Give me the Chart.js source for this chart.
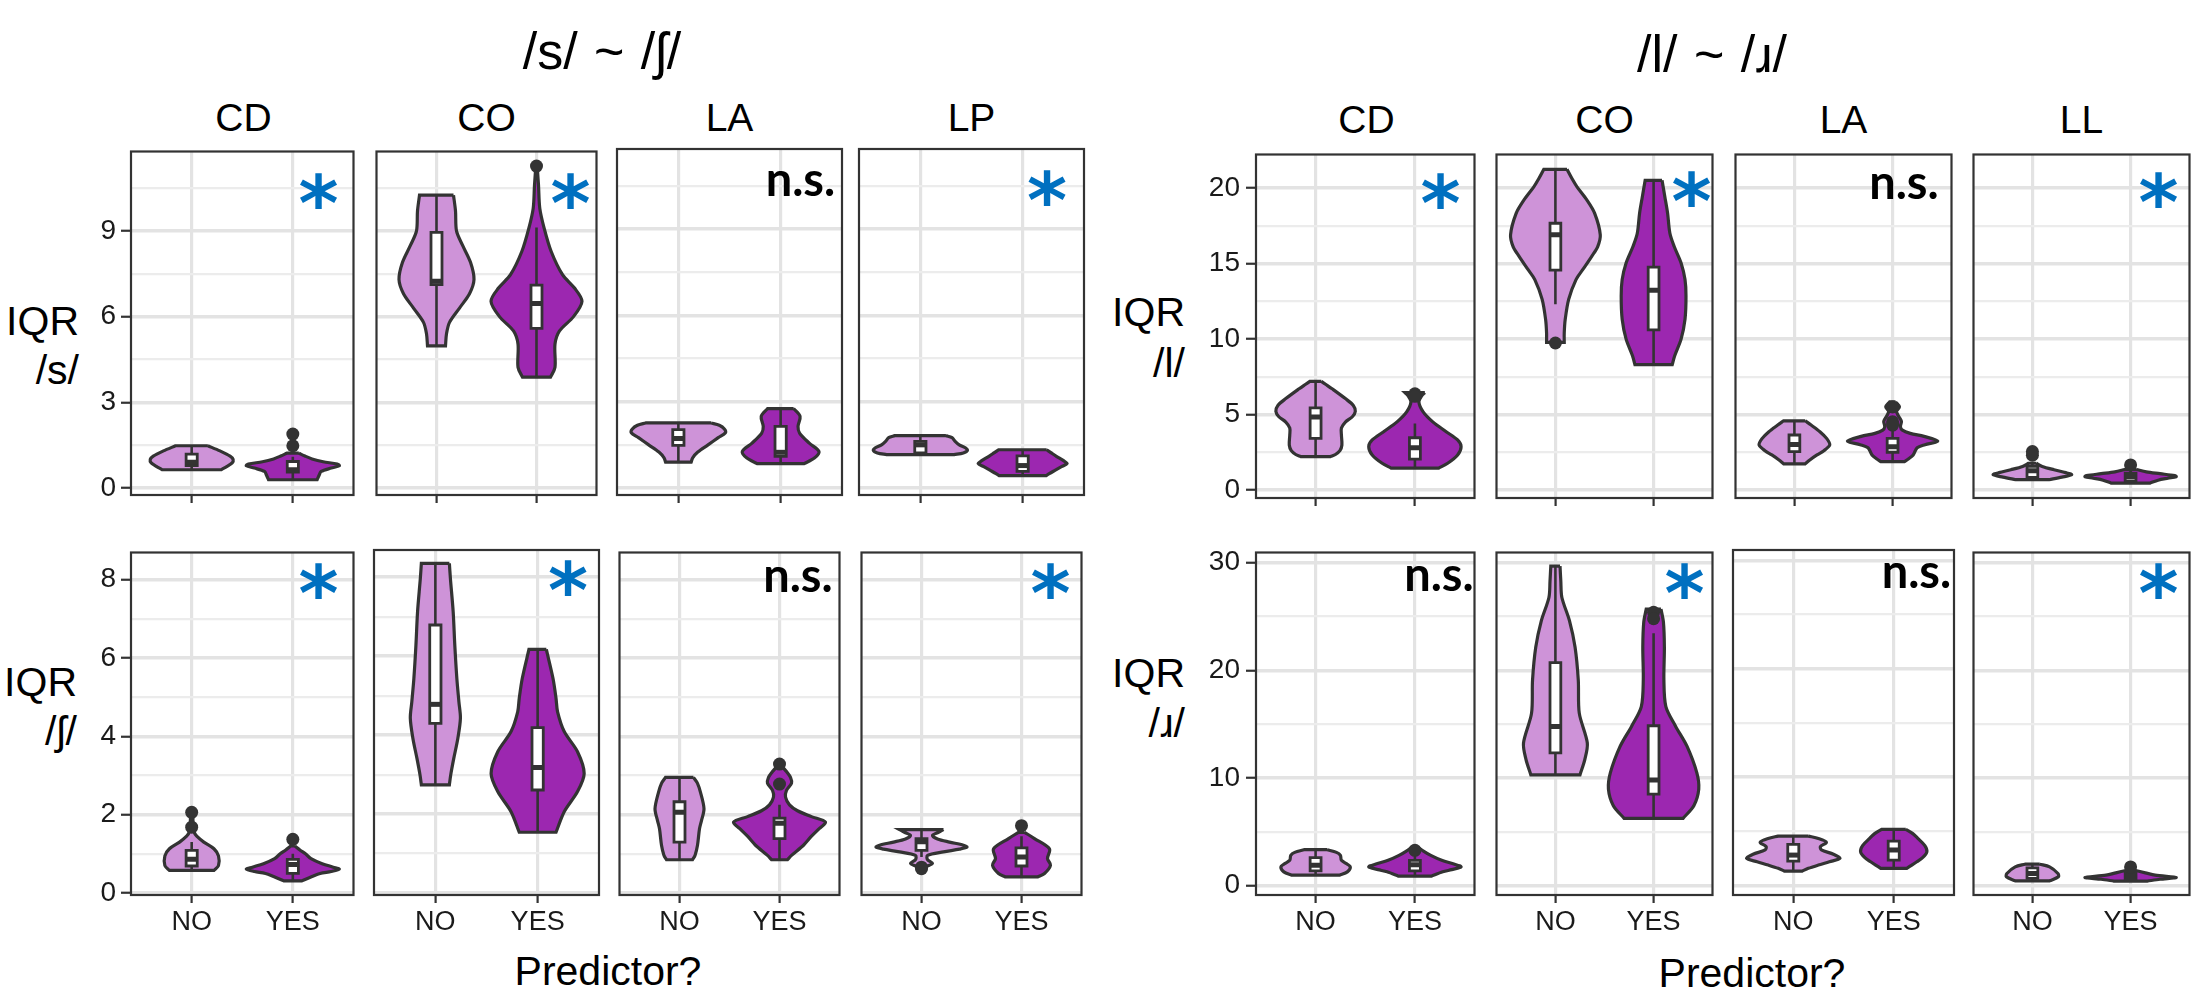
<!DOCTYPE html>
<html>
<head>
<meta charset="utf-8">
<script src="https://cdn.jsdelivr.net/npm/chart.js@4.4.1/dist/chart.umd.min.js"></script>
<style>
  html, body { margin: 0; padding: 0; background: #fff; overflow: hidden; }
  body { width: 2191px; height: 993px; position: relative; font-family: "Liberation Sans", Arial, sans-serif; color: #000; }
  canvas { position: absolute; }
  .t { position: absolute; line-height: 1; white-space: pre; }
</style>
</head>
<body>
<script>
const NO_FILL = "#CE93D8", YES_FILL = "#9C27B0", INK = "#333333", SIG_BLUE = "#0070C0";
const GRID_MAJ = "#e3e3e3", GRID_MIN = "#ececec", TICK_TXT = "#1a1a1a";
const GROUPS = ["NO", "YES"];
const BOX_HALF = 0.055;

// violin outlines are [value, half-width in x units], listed top to bottom
// boxes are [lower whisker, q1, median, q3, upper whisker]

// ---- /s/ ----
const S_FACETS = ["CD", "CO", "LA", "LP"];
const S_SIG = ["*", "*", "n.s.", "*"];
const S_YMAJOR = [0, 3, 6, 9], S_YMINOR = [1.5, 4.5, 7.5, 10.5];
const S_NO_SHAPE = [
  [[1.48,0.16],[1.30,0.28],[1.12,0.38],[1.0,0.41],[0.88,0.40],[0.76,0.35],[0.64,0.29]],
  [[10.25,0.17],[9.7,0.19],[9.0,0.20],[8.5,0.26],[7.9,0.34],[7.3,0.375],[6.8,0.33],[6.3,0.23],[5.8,0.13],[5.4,0.10],[4.98,0.09]],
  [[2.26,0.32],[2.18,0.40],[2.05,0.45],[1.92,0.46],[1.75,0.39],[1.5,0.29],[1.25,0.19],[1.05,0.14],[0.90,0.125]],
  [[1.82,0.25],[1.75,0.31],[1.62,0.34],[1.50,0.38],[1.40,0.44],[1.31,0.46],[1.22,0.42],[1.16,0.33]]
];
const S_YES_SHAPE = [
  [[1.22,0.06],[1.12,0.12],[1.02,0.19],[0.92,0.30],[0.84,0.44],[0.78,0.46],[0.70,0.38],[0.58,0.28],[0.45,0.26],[0.29,0.24]],
  [[11.1,0.01],[10.6,0.02],[9.79,0.033],[9.09,0.077],[8.28,0.147],[7.47,0.26],[7.0,0.38],[6.54,0.455],[6.0,0.37],[5.5,0.23],[5.04,0.185],[4.23,0.185],[3.88,0.14]],
  [[2.76,0.127],[2.49,0.19],[2.14,0.17],[1.91,0.185],[1.56,0.28],[1.27,0.375],[1.04,0.33],[0.85,0.23]],
  [[1.33,0.235],[1.22,0.28],[1.10,0.33],[0.95,0.40],[0.85,0.435],[0.74,0.38],[0.62,0.32],[0.50,0.26],[0.43,0.23]]
];
const S_NO_BOX = [[0.64,0.79,0.90,1.19,1.48],[4.98,7.12,7.24,8.95,10.25],[0.90,1.48,1.72,2.03,2.26],[1.16,1.22,1.50,1.62,1.82]];
const S_YES_BOX = [[0.29,0.56,0.64,0.93,1.10],[3.88,5.59,6.46,7.10,9.12],[0.85,1.10,1.24,2.14,2.76],[0.43,0.58,0.78,1.12,1.33]];
const S_NO_OUT = [[], [], [], []];
const S_YES_OUT = [[1.89, 1.48], [11.27], [], []];

// ---- /ʃ/ ----
const SH_SIG = ["*", "*", "n.s.", "*"];
const SH_YMAJOR = [0, 2, 4, 6, 8], SH_YMINOR = [1, 3, 5, 7];
const SH_NO_SHAPE = [
  [[2.05,0.01],[1.75,0.015],[1.55,0.025],[1.45,0.05],[1.30,0.12],[1.13,0.22],[0.95,0.265],[0.70,0.265],[0.58,0.22]],
  [[8.35,0.137],[7.97,0.147],[7.13,0.174],[6.28,0.19],[5.44,0.21],[4.85,0.23],[4.43,0.245],[3.92,0.22],[3.41,0.18],[2.99,0.15],[2.74,0.137]],
  [[2.95,0.14],[2.80,0.18],[2.57,0.21],[2.15,0.245],[1.85,0.22],[1.64,0.20],[1.22,0.18],[0.96,0.155],[0.85,0.13]],
  [[1.62,0.22],[1.55,0.17],[1.47,0.11],[1.38,0.16],[1.30,0.28],[1.22,0.42],[1.17,0.455],[1.12,0.38],[1.05,0.22],[0.96,0.06],[0.85,0.06],[0.76,0.11],[0.68,0.05]]
];
const SH_YES_SHAPE = [
  [[1.2,0.02],[1.10,0.07],[1.0,0.125],[0.88,0.18],[0.75,0.29],[0.66,0.40],[0.61,0.46],[0.55,0.38],[0.50,0.27],[0.42,0.19],[0.31,0.09]],
  [[6.17,0.085],[5.44,0.15],[4.93,0.18],[4.59,0.195],[4.09,0.26],[3.58,0.39],[3.03,0.455],[2.57,0.39],[2.06,0.26],[1.54,0.18]],
  [[3.22,0.03],[3.10,0.07],[2.95,0.11],[2.80,0.12],[2.62,0.07],[2.45,0.06],[2.25,0.10],[2.10,0.18],[1.95,0.32],[1.81,0.46],[1.65,0.40],[1.45,0.32],[1.22,0.24],[0.96,0.12],[0.85,0.08]],
  [[1.55,0.03],[1.39,0.13],[1.13,0.28],[0.88,0.26],[0.71,0.29],[0.50,0.23],[0.41,0.16]]
];
const SH_NO_BOX = [[0.58,0.69,0.86,1.09,1.30],[2.74,4.30,4.78,6.79,8.35],[0.85,1.30,2.06,2.33,2.95],[0.92,1.09,1.31,1.39,1.62]];
const SH_YES_BOX = [[0.31,0.50,0.73,0.86,1.0],[1.54,2.61,3.18,4.19,6.17],[0.85,1.39,1.78,1.91,2.25],[0.41,0.69,0.92,1.15,1.45]];
const SH_NO_OUT = [[2.06, 1.68], [], [], [0.66, 0.62]];
const SH_YES_OUT = [[1.37], [], [3.29, 2.78], [1.72]];

// ---- /l/ ----
const L_FACETS = ["CD", "CO", "LA", "LL"];
const L_SIG = ["*", "*", "n.s.", "*"];
const L_YMAJOR = [0, 5, 10, 15, 20], L_YMINOR = [2.5, 7.5, 12.5, 17.5];
const L_NO_SHAPE = [
  [[7.19,0.058],[7.0,0.10],[6.70,0.166],[6.05,0.30],[5.60,0.38],[5.20,0.40],[4.85,0.37],[4.50,0.30],[4.10,0.26],[3.64,0.26],[2.98,0.265],[2.60,0.245],[2.35,0.20],[2.21,0.15]],
  [[21.23,0.118],[20.6,0.17],[20.07,0.22],[19.2,0.32],[18.31,0.40],[16.89,0.457],[16.1,0.43],[15.47,0.37],[14.6,0.28],[13.93,0.21],[12.62,0.135],[11.30,0.10],[10.4,0.09],[9.77,0.09]],
  [[4.58,0.11],[4.3,0.17],[3.86,0.26],[3.4,0.33],[2.98,0.36],[2.6,0.30],[2.32,0.23],[2.0,0.16],[1.73,0.11]],
  [[1.77,0.04],[1.56,0.10],[1.34,0.22],[1.15,0.34],[1.01,0.40],[0.85,0.30],[0.68,0.17]]
];
const L_YES_SHAPE = [
  [[6.44,0.10],[6.25,0.07],[5.83,0.04],[5.17,0.083],[4.51,0.18],[3.86,0.315],[3.31,0.43],[2.87,0.465],[2.32,0.43],[1.77,0.33],[1.45,0.24]],
  [[20.5,0.086],[19.4,0.115],[18.31,0.143],[17.0,0.166],[16.12,0.21],[15.03,0.28],[13.93,0.32],[12.84,0.33],[11.30,0.32],[9.99,0.28],[8.89,0.215],[8.30,0.19]],
  [[5.83,0.03],[5.5,0.07],[5.2,0.04],[4.9,0.06],[4.55,0.09],[4.2,0.08],[3.96,0.10],[3.75,0.18],[3.55,0.32],[3.24,0.46],[3.0,0.33],[2.80,0.25],[2.32,0.21],[2.05,0.16],[1.88,0.12]],
  [[1.36,0.06],[1.20,0.16],[1.08,0.30],[0.95,0.45],[0.88,0.465],[0.78,0.38],[0.65,0.28],[0.46,0.20]]
];
const L_NO_BOX = [[2.21,3.42,4.84,5.43,7.19],[12.29,14.55,16.89,17.66,21.23],[1.73,2.54,3.02,3.64,4.58],[0.68,0.83,1.27,1.56,1.77]];
const L_YES_BOX = [[1.45,2.04,2.80,3.46,4.40],[8.30,10.60,13.23,14.76,20.50],[1.88,2.50,2.87,3.42,3.90],[0.46,0.61,0.90,1.12,1.36]];
const L_NO_OUT = [[], [9.73], [], [2.55, 2.30]];
const L_YES_OUT = [[6.37, 6.2], [], [5.50, 4.51, 4.3], [1.66]];

// ---- /ɹ/ ----
const R_SIG = ["n.s.", "*", "n.s.", "*"];
const R_YMAJOR = [0, 10, 20, 30], R_YMINOR = [5, 15, 25];
const R_NO_SHAPE = [
  [[3.35,0.116],[3.1,0.21],[2.82,0.25],[2.36,0.26],[2.0,0.32],[1.75,0.35],[1.29,0.32],[0.98,0.24]],
  [[29.69,0.047],[28.3,0.055],[26.77,0.066],[24.62,0.143],[22.17,0.20],[19.10,0.233],[16.03,0.243],[13.26,0.325],[11.73,0.30],[10.29,0.25]],
  [[4.57,0.15],[4.35,0.25],[4.0,0.33],[3.6,0.27],[3.3,0.28],[2.9,0.40],[2.52,0.465],[2.2,0.36],[1.9,0.25],[1.6,0.15],[1.35,0.09]],
  [[2.0,0.075],[1.75,0.175],[1.14,0.26],[0.83,0.265],[0.46,0.175]]
];
const R_YES_SHAPE = [
  [[3.59,0.03],[3.2,0.09],[2.82,0.16],[2.36,0.27],[2.0,0.40],[1.75,0.465],[1.5,0.37],[1.29,0.28],[0.89,0.165]],
  [[25.7,0.075],[24.5,0.10],[22.17,0.11],[19.1,0.105],[16.64,0.125],[14.8,0.225],[12.96,0.34],[10.5,0.44],[8.97,0.46],[7.43,0.41],[6.26,0.30]],
  [[5.19,0.12],[4.8,0.19],[4.36,0.24],[3.7,0.31],[3.13,0.33],[2.6,0.29],[2.21,0.23],[1.9,0.18],[1.60,0.13]],
  [[1.44,0.04],[1.2,0.15],[0.98,0.25],[0.77,0.465],[0.60,0.30],[0.43,0.17]]
];
const R_NO_BOX = [[0.98,1.38,1.90,2.61,3.35],[10.29,12.34,14.80,20.72,29.69],[1.35,2.27,2.82,3.81,4.57],[0.46,0.68,1.14,1.66,2.0]];
const R_YES_BOX = [[0.89,1.38,1.96,2.36,2.90],[6.26,8.50,9.83,14.86,23.46],[1.60,2.36,3.29,4.11,5.19],[0.43,0.58,0.85,1.14,1.44]];
const R_NO_OUT = [[], [], [], []];
const R_YES_OUT = [[3.29], [25.4, 24.8], [], [1.75]];

// ---- layout ----
const LEFT_X = [131, 374, 617, 859], RIGHT_X = [1256, 1494, 1733, 1971];
const PANEL_ROWS = [
  { facets: S_FACETS, x: LEFT_X, w: 225, y: 149, h: 346, xLabels: false, yMin: -0.243, yMax: 11.78,
    major: S_YMAJOR, minor: S_YMINOR, sig: S_SIG, sigPos: [[35, 39], [26, 39], [8, 47], [37, 39]],
    shapes: [S_NO_SHAPE, S_YES_SHAPE], boxes: [S_NO_BOX, S_YES_BOX], outs: [S_NO_OUT, S_YES_OUT], yPad: 5 },
  { facets: S_FACETS, x: LEFT_X, w: 225, y: 550, h: 345, xLabels: true, yMin: -0.05, yMax: 8.69,
    major: SH_YMAJOR, minor: SH_YMINOR, sig: SH_SIG, sigPos: [[35, 28], [31, 28], [8, 39], [31, 28]],
    shapes: [SH_NO_SHAPE, SH_YES_SHAPE], boxes: [SH_NO_BOX, SH_YES_BOX], outs: [SH_NO_OUT, SH_YES_OUT], yPad: 5 },
  { facets: L_FACETS, x: RIGHT_X, w: 221, y: 152, h: 346, xLabels: false, yMin: -0.53, yMax: 22.21,
    major: L_YMAJOR, minor: L_YMINOR, sig: L_SIG, sigPos: [[34, 36], [21, 34], [14, 44], [31, 35]],
    shapes: [L_NO_SHAPE, L_YES_SHAPE], boxes: [L_NO_BOX, L_YES_BOX], outs: [L_NO_OUT, L_YES_OUT], yPad: 6 },
  { facets: L_FACETS, x: RIGHT_X, w: 221, y: 550, h: 345, xLabels: true, yMin: -0.86, yMax: 30.95,
    major: R_YMAJOR, minor: R_YMINOR, sig: R_SIG, sigPos: [[2, 38], [28, 28], [4, 38], [31, 28]],
    shapes: [R_NO_SHAPE, R_YES_SHAPE], boxes: [R_NO_BOX, R_YES_BOX], outs: [R_NO_OUT, R_YES_OUT], yPad: 6 }
];

function violinPoints(shape, c) {
  const n = shape.length;
  const right = shape.map(([y, w]) => ({ x: c + w, y }));
  const left = shape.map(([y, w]) => ({ x: c - w, y })).reverse();
  // repeat the trimmed corners so the spline keeps flat ends sharp
  return [right[0], ...right, right[n - 1], left[0], ...left, left[n - 1], right[0]];
}

const panelDeco = {
  id: "panelDeco",
  afterDraw(chart, args, o) {
    const { ctx, chartArea: a } = chart;
    ctx.save();
    ctx.strokeStyle = INK; ctx.lineWidth = 2.2;
    ctx.strokeRect(a.left, a.top, a.right - a.left, a.bottom - a.top);
    ctx.textAlign = "left"; ctx.textBaseline = "alphabetic";
    if (o.sig === "*") {
      ctx.font = 'bold 100px "DejaVu Sans"';
      let m = ctx.measureText("*");
      const size = 100 * 36 / (m.actualBoundingBoxAscent + m.actualBoundingBoxDescent);
      ctx.font = `bold ${size}px "DejaVu Sans"`;
      m = ctx.measureText("*");
      const cx = a.right - o.dx, cy = a.top + o.dy;
      ctx.fillStyle = SIG_BLUE;
      ctx.fillText("*", cx - (m.actualBoundingBoxRight - m.actualBoundingBoxLeft) / 2,
        cy + (m.actualBoundingBoxAscent - m.actualBoundingBoxDescent) / 2);
    } else {
      ctx.font = "bold 47px Lato";
      const m = ctx.measureText(o.sig);
      ctx.fillStyle = "#000";
      ctx.fillText(o.sig, a.right - o.dx - m.actualBoundingBoxRight, a.top + o.dy);
    }
    ctx.restore();
  }
};

function makePanel(row, i) {
  const first = i === 0;
  const LW = first ? 60 : 4, TP = 4, RP = 4, BH = row.xLabels ? 60 : 16;
  const cv = document.createElement("canvas");
  cv.width = LW + row.w + RP; cv.height = TP + row.h + BH;
  cv.style.left = (row.x[i] - LW) + "px"; cv.style.top = (row.y - TP) + "px";
  document.body.appendChild(cv);

  const datasets = [];
  GROUPS.forEach((g, k) => {
    const c = k + 1;
    const [lo, q1, med, q3, hi] = row.boxes[k][i];
    datasets.push({ data: violinPoints(row.shapes[k][i], c), showLine: true, fill: "shape",
      backgroundColor: k ? YES_FILL : NO_FILL, borderColor: INK, borderWidth: 3.2, tension: 0.3,
      pointRadius: 0, order: 5 });
    datasets.push({ data: [{ x: c, y: lo }, { x: c, y: hi }], showLine: true, fill: false,
      borderColor: INK, borderWidth: 2.6, pointRadius: 0, order: 4 });
    datasets.push({ data: [{ x: c - BOX_HALF, y: q1 }, { x: c + BOX_HALF, y: q1 }, { x: c + BOX_HALF, y: q3 },
      { x: c - BOX_HALF, y: q3 }, { x: c - BOX_HALF, y: q1 }], showLine: true, fill: "shape",
      backgroundColor: "#ffffff", borderColor: INK, borderWidth: 2.8, tension: 0, pointRadius: 0,
      borderJoinStyle: "miter", borderCapStyle: "square", order: 3 });
    datasets.push({ data: [{ x: c - BOX_HALF, y: med }, { x: c + BOX_HALF, y: med }], showLine: true, fill: false,
      borderColor: INK, borderWidth: 5, pointRadius: 0, order: 2 });
    datasets.push({ data: row.outs[k][i].map(v => ({ x: c, y: v })), showLine: false,
      pointRadius: 6.5, backgroundColor: INK, borderWidth: 0, order: 1 });
  });

  const yTicks = [...row.major, ...row.minor].sort((a, b) => a - b);
  const isMajor = v => row.major.includes(v);
  new Chart(cv, {
    type: "scatter",
    data: { datasets },
    options: {
      responsive: false, animation: false, devicePixelRatio: 1, events: [],
      layout: { padding: { top: TP, right: RP, left: 0, bottom: 0 } },
      plugins: { legend: { display: false }, tooltip: { enabled: false },
        panelDeco: { sig: row.sig[i], dx: row.sigPos[i][0], dy: row.sigPos[i][1] } },
      scales: {
        x: {
          type: "linear", min: 0.4, max: 2.6,
          afterBuildTicks: s => { s.ticks = [1, 2].map(v => ({ value: v })); },
          afterFit: s => { s.height = BH; s.paddingLeft = 0; s.paddingRight = 0; },
          ticks: { display: row.xLabels, autoSkip: false, maxRotation: 0, padding: 3, color: TICK_TXT,
            font: { family: '"Liberation Sans", Arial, sans-serif', size: 27 }, callback: v => GROUPS[v - 1] },
          grid: { color: GRID_MAJ, lineWidth: 3.2, drawTicks: true, tickLength: 8, tickColor: INK, tickWidth: 2.2 },
          border: { display: false }
        },
        y: {
          type: "linear", min: row.yMin, max: row.yMax,
          afterBuildTicks: s => { s.ticks = yTicks.map(v => ({ value: v })); },
          afterFit: s => { s.width = LW; s.paddingTop = 0; s.paddingBottom = 0; },
          ticks: { display: first, autoSkip: false, padding: row.yPad, color: TICK_TXT,
            font: { family: '"Liberation Sans", Arial, sans-serif', size: 28 },
            callback: v => isMajor(v) ? String(v) : "" },
          grid: { color: c => isMajor(c.tick.value) ? GRID_MAJ : GRID_MIN,
            lineWidth: c => isMajor(c.tick.value) ? 3.5 : 2.2,
            drawTicks: first, tickLength: 10, tickWidth: 2.2,
            tickColor: c => isMajor(c.tick.value) ? INK : "rgba(0,0,0,0)" },
          border: { display: false }
        }
      }
    },
    plugins: [panelDeco]
  });
}

function txt(s, x, base, size, align, extra) {
  const d = document.createElement("div");
  d.className = "t"; d.textContent = s;
  d.style.fontSize = size + "px";
  d.style.top = (base - 0.8465 * size) + "px";
  if (align === "center") { d.style.left = x + "px"; d.style.transform = "translateX(-50%)"; }
  else if (align === "right") d.style.right = (2191 - x) + "px";
  else d.style.left = x + "px";
  if (extra) Object.assign(d.style, extra);
  document.body.appendChild(d);
}

function drawTexts() {
  txt("/s/ ~ /ʃ/", 602, 69, 52, "center", { wordSpacing: "2px" });
  txt("/l/ ~ /ɹ/", 1712, 72, 52, "center", { wordSpacing: "2px" });
  S_FACETS.forEach((f, i) => txt(f, LEFT_X[i] + 112.5, 131, 39, "center"));
  L_FACETS.forEach((f, i) => txt(f, RIGHT_X[i] + 110.5, 133, 39, "center"));
  txt("IQR", 79, 336, 41, "right"); txt("/s/", 79, 385, 41, "right");
  txt("IQR", 77, 697, 41, "right"); txt("/ʃ/", 77, 746, 41, "right");
  txt("IQR", 1185, 327, 41, "right"); txt("/l/", 1185, 378, 41, "right");
  txt("IQR", 1185, 688, 41, "right"); txt("/ɹ/", 1185, 738, 41, "right");
  txt("Predictor?", 608, 986, 41, "center");
  txt("Predictor?", 1752, 988, 41, "center");
}

async function build() {
  try {
    await Promise.all([document.fonts.load("bold 47px Lato"), document.fonts.load('bold 80px "DejaVu Sans"'),
      document.fonts.load('38px "Liberation Sans"')]);
  } catch (e) {}
  drawTexts();
  PANEL_ROWS.forEach(row => row.facets.forEach((f, i) => makePanel(row, i)));
}
build();
</script>
</body>
</html>
